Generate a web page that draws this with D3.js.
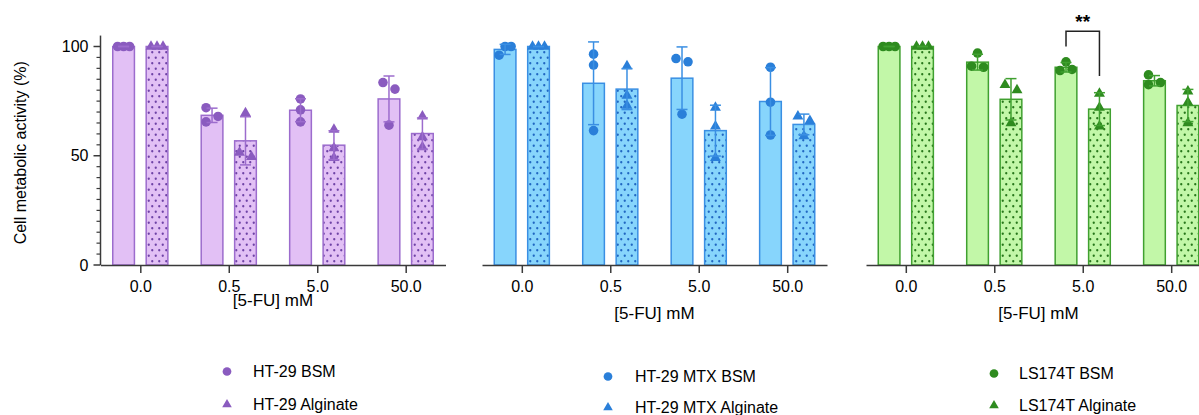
<!DOCTYPE html>
<html><head><meta charset="utf-8">
<script src="https://cdn.jsdelivr.net/npm/d3@7"></script>
<style>body{margin:0;background:#fff} text{font-family:"Liberation Sans",Arial,Helvetica,sans-serif}</style>
</head><body><svg id="c" width="1199" height="415"></svg>
<script>
// ---------- data ----------
const doses = ["0.0", "0.5", "5.0", "50.0"];
const yTicks = [0, 50, 100];
const yTitle = "Cell metabolic activity (%)";
const xTitle = "[5-FU] mM";
const cellLines = ["HT-29", "HT-29 MTX", "LS174T"];
const seriesLabels = ["BSM", "Alginate"];
const ht29BSM = [[100, 100, 100], [72, 65.5, 68], [76, 71, 65.5], [83.5, 80.5, 64]];
const ht29Alginate = [[100, 100, 100], [69.5, 49.5, 51.5], [62, 49, 53.5], [68, 58.5, 54]];
const mtxBSM = [[96, 100, 100], [96.5, 91.5, 61.5], [94.5, 93, 69], [90.5, 74.5, 59.5]];
const mtxAlginate = [[100, 100, 100], [91, 77.5, 73], [72, 63.5, 49], [68, 66, 59]];
const ls174tBSM = [[100, 100, 100], [97, 90.5, 91], [93, 89, 89.5], [87, 82.5, 83.5]];
const ls174tAlginate = [[100, 100, 100], [82.5, 80, 65], [78.5, 72, 63.5], [79.5, 74.5, 65]];
const significance = [{ panel: 2, dose: "5.0", label: "**", top: 107, leftEnd: 100, rightEnd: 86.5 }];

// ---------- layout / style ----------
const svg = d3.select("#c");
const y = d3.scaleLinear().domain([0, 100]).range([265, 46.5]);
const styles = [
  { fill: "#E2C0F5", stroke: "#9C6CCD", point: "#8A5BBF", dot: "#6E42A6" },
  { fill: "#87D5FC", stroke: "#3A8FE3", point: "#2A7FD9", dot: "#2066C2" },
  { fill: "#C2F7A8", stroke: "#40A030", point: "#2E8B1F", dot: "#26761A" }
];
const panels = [
  { bsm: ht29BSM, alg: ht29Alginate, L: 100.5, titleY: 306, lx: 227, ltx: 253, ly: [377, 410] },
  { bsm: mtxBSM, alg: mtxAlginate, L: 482, titleY: 319, lx: 608, ltx: 635, ly: [382, 413] },
  { bsm: ls174tBSM, alg: ls174tAlginate, L: 866, titleY: 319, lx: 994, ltx: 1019, ly: [379, 411] }
];
const axisColor = "#3a3a3a";

// patterns
const defs = svg.append("defs");
styles.forEach((s, i) => {
  const p = defs.append("pattern").attr("id", "dots" + i).attr("patternUnits", "userSpaceOnUse")
    .attr("width", 7).attr("height", 11);
  p.append("rect").attr("width", 7).attr("height", 11).attr("fill", s.fill);
  p.append("circle").attr("cx", 1.75).attr("cy", 2.75).attr("r", 1.15).attr("fill", s.dot);
  p.append("circle").attr("cx", 5.25).attr("cy", 8.25).attr("r", 1.15).attr("fill", s.dot);
});

function swarm(vals, s = 12, thr = 9.5, maxSpan = 12) {
  const n = vals.length;
  const idx = d3.range(n).sort((a, b) => vals[b] - vals[a]);
  const off = new Array(n);
  const placed = [];
  for (const i of idx) {
    const cands = [0];
    for (let k = 1; k <= 5; k++) cands.push(k * s, -k * s);
    for (const c of cands) {
      if (placed.every(j => Math.abs(y(vals[j]) - y(vals[i])) >= thr || Math.abs(off[j] - c) >= s - 0.01)) { off[i] = c; break; }
    }
    placed.push(i);
  }
  const comp = new Array(n).fill(-1); let cid = 0;
  for (let i = 0; i < n; i++) if (comp[i] < 0) {
    const st = [i]; comp[i] = cid;
    while (st.length) {
      const a = st.pop();
      for (let b = 0; b < n; b++) if (comp[b] < 0 && Math.abs(y(vals[a]) - y(vals[b])) < thr) { comp[b] = cid; st.push(b); }
    }
    cid++;
  }
  for (let c = 0; c < cid; c++) {
    const m = d3.range(n).filter(i => comp[i] === c);
    const lo = d3.min(m, i => off[i]), hi = d3.max(m, i => off[i]);
    const mid = (lo + hi) / 2, span = hi - lo, k = span > maxSpan ? maxSpan / span : 1;
    m.forEach(i => off[i] = (off[i] - mid) * k);
  }
  return off;
}

const circleSym = d3.symbol().type(d3.symbolCircle).size(72);
const triSym = d3.symbol().type(d3.symbolTriangle).size(52);

panels.forEach((P, pi) => {
  const st = styles[pi];
  const x = d3.scalePoint().domain(doses).range([P.L, P.L + 345]).padding(0.45);
  const step = x.step();
  const bw = step * 0.245, off = step * 0.189;
  const g = svg.append("g");

  const groups = [
    { data: P.bsm, dx: -off, fill: st.fill, sym: circleSym },
    { data: P.alg, dx: off, fill: `url(#dots${pi})`, sym: triSym }
  ];
  groups.forEach(G => {
    G.data.forEach((vals, di) => {
      const m = d3.mean(vals), sd = d3.deviation(vals);
      const cx = x(doses[di]) + G.dx;
      g.append("rect").attr("x", cx - bw / 2).attr("y", y(m)).attr("width", bw).attr("height", y(0) - y(m))
        .attr("fill", G.fill).attr("stroke", st.stroke).attr("stroke-width", 1.5);
      const jit = swarm(vals);
      vals.forEach((v, k) => {
        g.append("path").attr("d", G.sym()).attr("transform", `translate(${cx + jit[k]},${y(v)})`).attr("fill", st.point);
      });
      const eb = g.append("g").attr("stroke", st.stroke).attr("stroke-width", 1.5);
      eb.append("line").attr("x1", cx).attr("x2", cx).attr("y1", y(m - sd)).attr("y2", y(m + sd));
      [m - sd, m + sd].forEach(v => eb.append("line").attr("x1", cx - 5.5).attr("x2", cx + 5.5).attr("y1", y(v)).attr("y2", y(v)));
    });
  });

  // x axis
  const ax = g.append("g").attr("transform", `translate(0,${y(0)})`)
    .call(d3.axisBottom(x).tickSize(8).tickSizeOuter(0).tickPadding(8));
  ax.selectAll("path,line").attr("stroke", axisColor).attr("stroke-width", 1.5);
  ax.selectAll("text").attr("font-size", 16).attr("fill", "#000").attr("font-family", '"Liberation Sans",Arial,sans-serif');
  g.append("text").attr("x", (x(doses[0]) + x(doses[3])) / 2).attr("y", P.titleY).attr("text-anchor", "middle")
    .attr("font-size", 17).text(xTitle);

  // legend
  seriesLabels.forEach((lab, li) => {
    const ly = P.ly[li];
    g.append("path").attr("d", li === 0 ? d3.symbol().type(d3.symbolCircle).size(60)() : d3.symbol().type(d3.symbolTriangle).size(40)())
      .attr("transform", `translate(${P.lx},${ly - 5.5})`).attr("fill", st.point);
    g.append("text").attr("x", P.ltx).attr("y", ly).attr("font-size", 16).text(cellLines[pi] + " " + lab);
  });

  // significance
  significance.filter(s => s.panel === pi).forEach(s => {
    const x1 = x(s.dose) - off, x2 = x(s.dose) + off;
    g.append("path").attr("d", `M${x1},${y(s.leftEnd)}V${y(s.top)}H${x2}V${y(s.rightEnd)}`)
      .attr("fill", "none").attr("stroke", "#222").attr("stroke-width", 1.5);
    g.append("text").attr("x", (x1 + x2) / 2).attr("y", y(s.top) - 3).attr("text-anchor", "middle")
      .attr("font-size", 19).attr("font-weight", "bold").text(s.label);
  });

  // y axis on first panel
  if (pi === 0) {
    const ya = svg.append("g").attr("transform", `translate(${P.L},0)`);
    ya.append("line").attr("y1", y(0)).attr("y2", y(105)).attr("stroke", axisColor).attr("stroke-width", 1.5);
    d3.range(0, 101, 5).forEach(v => {
      const major = yTicks.includes(v);
      ya.append("line").attr("x1", major ? -7 : -4).attr("x2", 0).attr("y1", y(v)).attr("y2", y(v))
        .attr("stroke", axisColor).attr("stroke-width", major ? 1.5 : 1.2);
    });
    yTicks.forEach(v => ya.append("text").attr("x", -12).attr("y", y(v)).attr("dy", "0.35em")
      .attr("text-anchor", "end").attr("font-size", 16).text(v));
    svg.append("text").attr("transform", `translate(26,${(y(0) + y(100)) / 2 - 3}) rotate(-90)`)
      .attr("text-anchor", "middle").attr("font-size", 16).text(yTitle);
  }
});
</script></body></html>
